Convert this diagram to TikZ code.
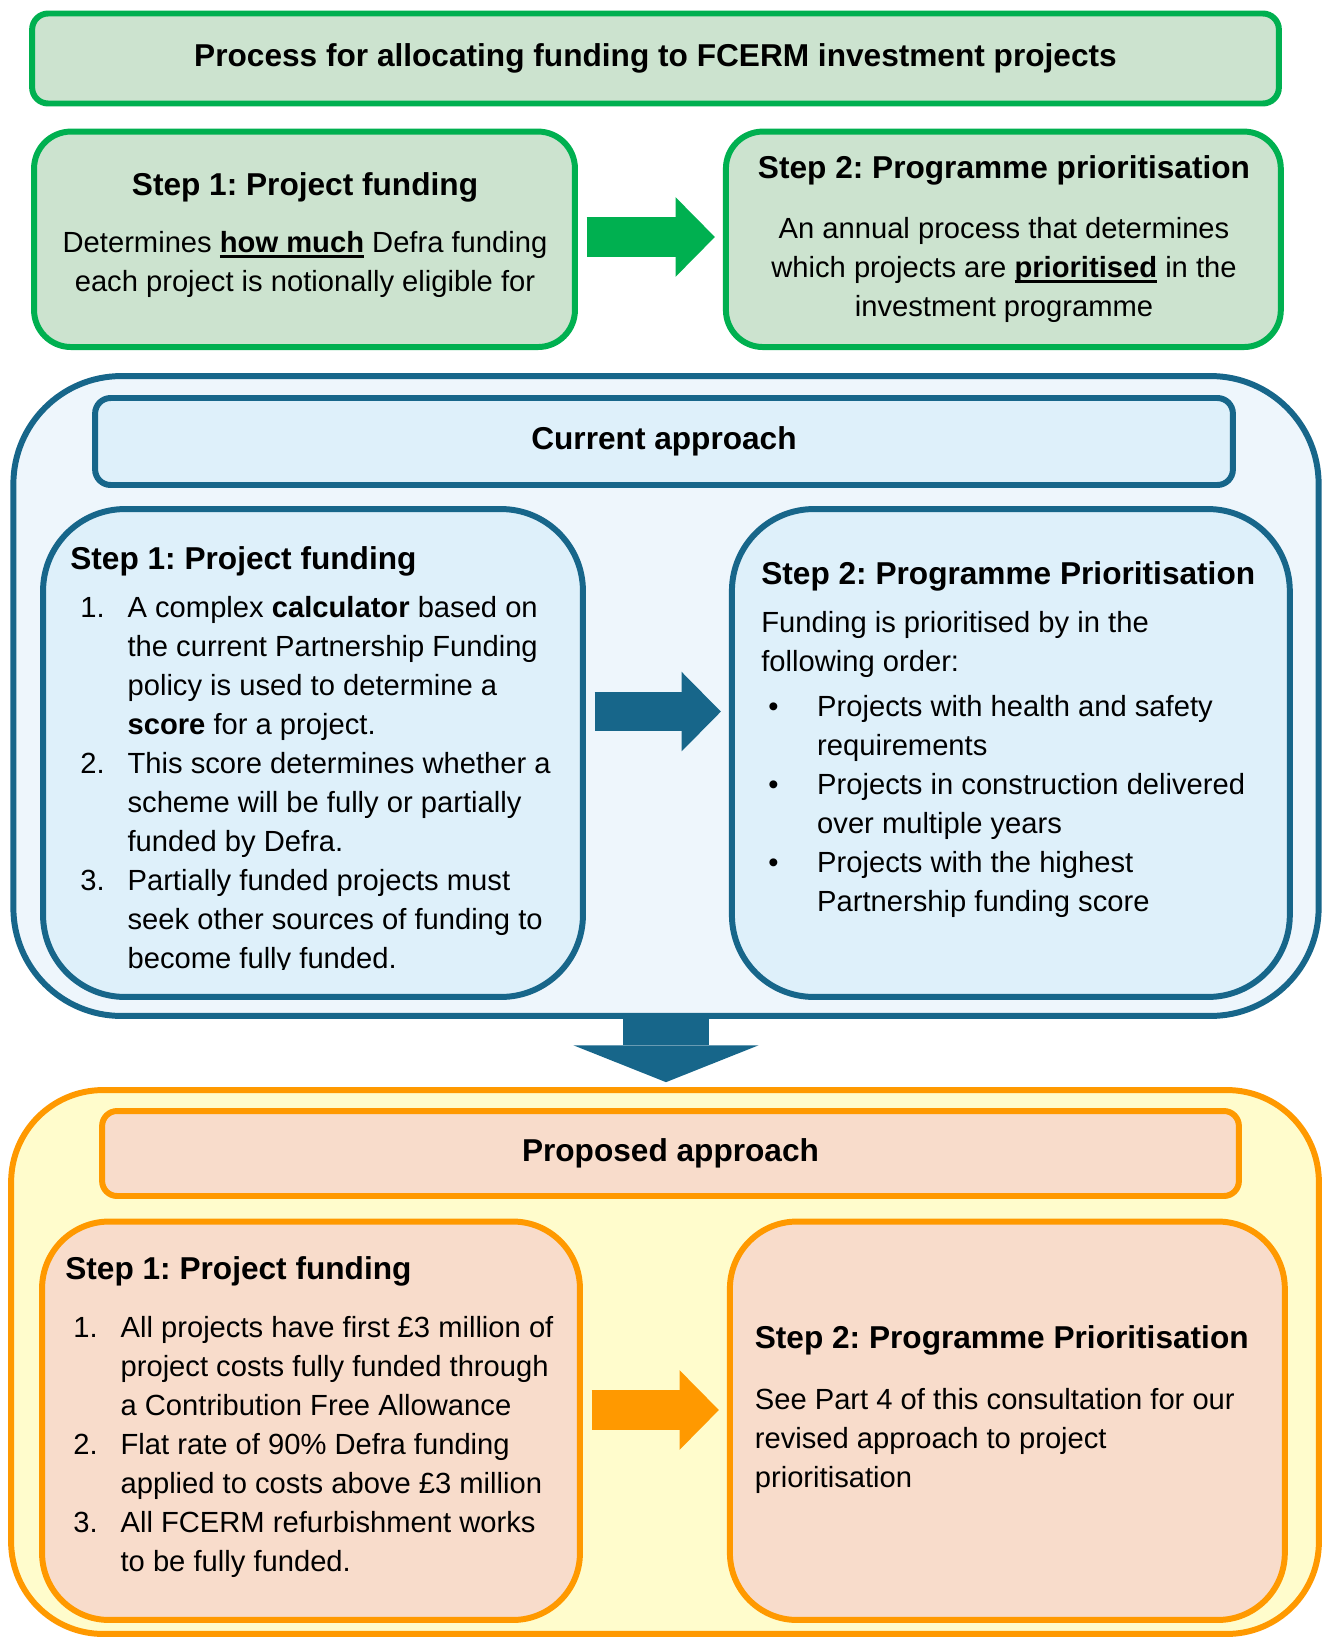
\documentclass[tikz,border=0pt]{standalone}
\usepackage{fontspec}
\setmainfont{Liberation Sans}
\usetikzlibrary{arrows.meta,positioning,calc}
\frenchspacing
\definecolor{fcgreen}{RGB}{0,176,80}
\definecolor{fcgreenfill}{RGB}{204,227,207}
\definecolor{fcblue}{RGB}{23,102,138}
\definecolor{fcbluebg}{RGB}{238,246,252}
\definecolor{fcbluefill}{RGB}{222,240,250}
\definecolor{fcorange}{RGB}{255,153,0}
\definecolor{fcyellow}{RGB}{255,252,204}
\definecolor{fcpeach}{RGB}{248,220,203}
\newsavebox{\uwordbox}
\newcommand{\headfont}{\bfseries\fontsize{18}{22}\selectfont}
\newcommand{\numlab}[2][26.9pt]{\makebox[#1][l]{#2}}
\newcommand{\listgap}[1][26.9pt]{\hspace*{#1}}
\newcommand{\uword}[1]{\sbox{\uwordbox}{\textbf{#1}}\rlap{\rule[-3pt]{\wd\uwordbox}{1.3pt}}\usebox{\uwordbox}}
\tikzstyle{roundbox} = [draw, rectangle, line width=3.4pt, inner sep=0pt]
\tikzstyle{greenbox} = [roundbox, draw=fcgreen, fill=fcgreenfill]
\tikzstyle{bluepanel} = [roundbox, draw=fcblue, fill=fcbluebg]
\tikzstyle{bluebox} = [roundbox, draw=fcblue, fill=fcbluefill]
\tikzstyle{orangepanel} = [roundbox, draw=fcorange, fill=fcyellow]
\tikzstyle{orangebox} = [roundbox, draw=fcorange, fill=fcpeach]
\tikzstyle{heading} = [inner sep=0pt, font=\headfont]
\tikzstyle{body} = [inner sep=0pt, align=left, font=\fontsize{16.6}{22.2}\selectfont]
\tikzstyle{sidearrow} = [line width=22.4pt, shorten <=5pt, shorten >=4.6pt, -{Triangle[length=22.4pt, width=45.4pt, line width=0pt]}]
\begin{document}
\begin{tikzpicture}[auto, x=0.02cm, y=-0.02cm, node distance=13.98cm]
\useasboundingbox (0,0) rectangle (1324,1639);

\node [greenbox, minimum width=24.94cm, minimum height=1.8cm, rounded corners=0.32cm, font=\headfont] (title) at (655.5,58.5) {Process for allocating funding to FCERM investment projects};

\node [greenbox, minimum width=10.82cm, minimum height=4.31cm, rounded corners=0.74cm] (step1) at (304.5,239.3) {};
\node [greenbox, right of=step1, minimum width=11.1cm, minimum height=4.31cm, rounded corners=0.74cm] (step2) {};
\node [heading] (step1head) at (305,187) {Step 1: Project funding};
\node [body, align=center, anchor=north] (step1text) at (305,231) {Determines \uword{how much} Defra funding\\each project is notionally eligible for};
\node [heading] (step2head) at (1004,170) {Step 2: Programme prioritisation};
\node [body, align=center, anchor=north] (step2text) at (1004,217) {An annual process that determines\\which projects are \uword{prioritised} in the\\investment programme};
\draw [sidearrow, draw=fcgreen] (step1.east |- 0,237) -- (step2.west |- 0,237);

\node [bluepanel, minimum width=26.11cm, minimum height=12.8cm, rounded corners=2.16cm] (current) at (666,696) {};
\node [bluebox, minimum width=22.76cm, minimum height=1.74cm, rounded corners=0.31cm, font=\headfont] (currenthead) at (664,441.5) {Current approach};
\node [bluebox, minimum width=10.8cm, minimum height=9.76cm, rounded corners=1.64cm] (cur1) at (313,753) {};
\node [bluebox, right of=cur1, node distance=13.96cm, minimum width=11.16cm, minimum height=9.76cm, rounded corners=1.64cm] (cur2) {};
\node [heading, anchor=west] (cur1head) at (70,561) {Step 1: Project funding};
\begin{scope}
\clip (40,506) rectangle (586,969);
\node [body, anchor=north west] (cur1list) at (80,596) {\numlab{1.}A complex \textbf{calculator} based on\\
\listgap the current Partnership Funding\\
\listgap policy is used to determine a\\
\listgap \textbf{score} for a project.\\
\numlab{2.}This score determines whether a\\
\listgap scheme will be fully or partially\\
\listgap funded by Defra.\\
\numlab{3.}Partially funded projects must\\
\listgap seek other sources of funding to\\
\listgap become fully funded.};
\end{scope}
\node [heading, anchor=west] (cur2head) at (761,576) {Step 2: Programme Prioritisation};
\node [body, anchor=north west] (cur2text) at (761,611) {Funding is prioritised by in the\\following order:};
\node [body, anchor=north west] (cur2list) at (768,695.4) {\numlab[27.8pt]{\textbullet}Projects with health and safety\\
\listgap[27.8pt]requirements\\
\numlab[27.8pt]{\textbullet}Projects in construction delivered\\
\listgap[27.8pt]over multiple years\\
\numlab[27.8pt]{\textbullet}Projects with the highest\\
\listgap[27.8pt]Partnership funding score};
\draw [sidearrow, draw=fcblue] (cur1.east |- 0,711.6) -- (cur2.west |- 0,711.6);

\node [orangepanel, minimum width=26.16cm, minimum height=10.88cm, rounded corners=1.84cm] (proposed) at (665,1362) {};
\node [orangebox, minimum width=22.74cm, minimum height=1.7cm, rounded corners=0.3cm, font=\headfont] (proposedhead) at (670.5,1153.5) {Proposed approach};
\node [orangebox, minimum width=10.76cm, minimum height=7.97cm, rounded corners=1.34cm] (prop1) at (311,1420.75) {};
\node [orangebox, right of=prop1, node distance=13.93cm, minimum width=11.1cm, minimum height=7.97cm, rounded corners=1.34cm] (prop2) {};
\node [heading, anchor=west] (prop1head) at (65,1271) {Step 1: Project funding};
\node [body, anchor=north west] (prop1list) at (73,1316) {\numlab{1.}All projects have first £3 million of\\
\listgap project costs fully funded through\\
\listgap a Contribution Free Allowance\\
\numlab{2.}Flat rate of 90\% Defra funding\\
\listgap applied to costs above £3 million\\
\numlab{3.}All FCERM refurbishment works\\
\listgap to be fully funded.};
\node [heading, anchor=west] (prop2head) at (754.5,1340) {Step 2: Programme Prioritisation};
\node [body, anchor=north west] (prop2text) at (754.5,1388) {See Part 4 of this consultation for our\\revised approach to project\\prioritisation};
\draw [sidearrow, draw=fcorange] (prop1.east |- 0,1410) -- (prop2.west |- 0,1410);

\draw [draw=fcblue, line width=48.8pt, shorten >=2.8pt, -{Triangle[length=21pt, width=105.5pt, line width=0pt]}] (current.south) -- (current.south |- proposed.north);
\end{tikzpicture}
\end{document}
